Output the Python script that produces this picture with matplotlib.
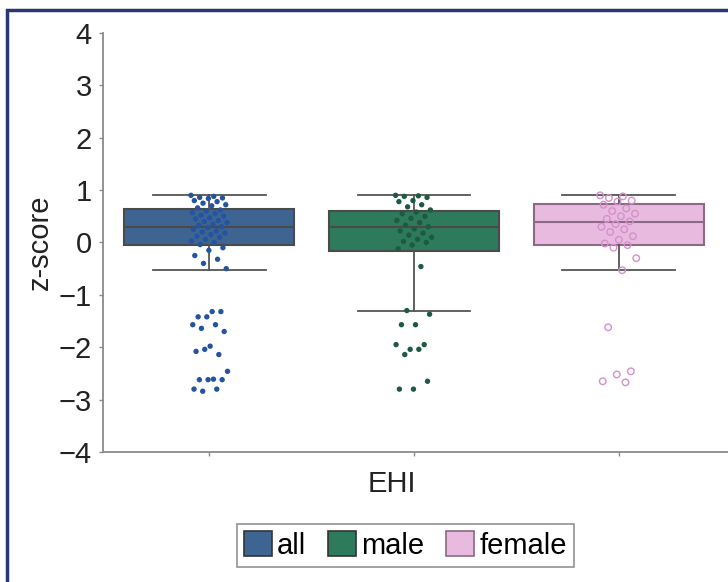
import numpy as np
import matplotlib.pyplot as plt
from matplotlib.patches import Patch, Rectangle

plt.rcParams['font.family'] = ['Liberation Sans', 'DejaVu Sans']

groups = ['all', 'male', 'female']
face_cols = ['#3e6592', '#2e7a5c', '#e8badf']
edge_cols = ['#4a4a4a', '#4a4a4a', '#8c6a86']
dot_cols = ['#2453a0', '#1d5a40', '#d590cc']

# box statistics
q1 = [-0.05, -0.17, -0.05]
med = [0.30, 0.29, 0.40]
q3 = [0.63, 0.60, 0.73]
wlo = [-0.53, -1.30, -0.53]
whi = [0.90, 0.90, 0.90]

# individual z-scores (strip points)
all_vals = [0.90, 0.88, 0.86, 0.85, 0.84, 0.80, 0.78, 0.75, 0.72, 0.70, 0.66, 0.62,
            0.60, 0.57, 0.55, 0.52, 0.50, 0.47, 0.45, 0.42, 0.40, 0.38, 0.35, 0.33,
            0.30, 0.28, 0.25, 0.22, 0.20, 0.18, 0.15, 0.12, 0.10, 0.06, 0.03, 0.00,
            -0.04, -0.10, -0.15, -0.25, -0.32, -0.40, -0.50,
            -1.32, -1.42, -1.32, -1.42, -1.57, -1.57, -1.64, -1.70, -1.98, -2.08, -2.14,
            -2.04, -2.46, -2.61, -2.62, -2.62, -2.62, -2.80, -2.80, -2.84]
male_vals = [0.90, 0.89, 0.88, 0.86, 0.80, 0.78, 0.72, 0.68, 0.62, 0.58, 0.55, 0.50,
             0.46, 0.42, 0.38, 0.33, 0.30, 0.26, 0.22, 0.18, 0.14, 0.10, 0.06, 0.02,
             0.00, -0.05, -0.12, -0.46,
             -1.30, -1.37, -1.57, -1.57, -1.95, -2.04, -1.95, -2.04, -2.14, -2.65,
             -2.80, -2.80]
female_vals = [0.90, 0.88, 0.85, 0.80, 0.78, 0.72, 0.65, 0.60, 0.55, 0.50, 0.45, 0.40,
               0.35, 0.30, 0.25, 0.20, 0.12, 0.05, -0.02, -0.05, -0.10, -0.30, -0.53,
               -1.62, -2.46, -2.52, -2.65, -2.67]
values = [all_vals, male_vals, female_vals]

fs = 21

fig = plt.figure(figsize=(7.28, 5.82), dpi=100)
ax = fig.add_axes([0.1415, 0.2234, 0.86, 0.72])

stats = []
for i, g in enumerate(groups):
    stats.append(dict(label=g, med=med[i], q1=q1[i], q3=q3[i],
                      whislo=wlo[i], whishi=whi[i], fliers=[]))

pos = np.arange(len(groups))
bp = ax.bxp(stats, positions=pos, widths=0.83, patch_artist=True,
            showfliers=False, capwidths=0.55, manage_ticks=False)
for i, box in enumerate(bp['boxes']):
    box.set_facecolor(face_cols[i])
    box.set_edgecolor(edge_cols[i])
    box.set_linewidth(1.5)
for k, line in enumerate(bp['medians']):
    line.set_color(edge_cols[k])
    line.set_linewidth(1.5)
for line in bp['whiskers'] + bp['caps']:
    line.set_color('#555555')
    line.set_linewidth(1.3)

# strip points with a fixed (non-random) jitter
for i, v in enumerate(values):
    n = len(v)
    jit = ((np.arange(n) * 0.6180339) % 1.0 - 0.5) * 0.18
    if groups[i] == 'female':
        ax.scatter(pos[i] + jit, v, s=22, facecolors='none',
                   edgecolors=dot_cols[i], linewidths=1.0, zorder=3)
    else:
        ax.scatter(pos[i] + jit, v, s=15, color=dot_cols[i],
                   edgecolors='none', zorder=3)

ax.set_xlim(-0.52, 2.54)
ax.set_ylim(-4, 4)
ax.set_yticks(range(-4, 5))
ax.set_yticklabels([str(t).replace('-', '\u2212') for t in range(-4, 5)])
ax.set_xticks(pos)
ax.set_xticklabels([])
for s in ['top', 'right']:
    ax.spines[s].set_visible(False)
for s in ['left', 'bottom']:
    ax.spines[s].set_color('#8a8a8a')
    ax.spines[s].set_linewidth(1.3)
ax.tick_params(colors='#8a8a8a', labelcolor='#222222', labelsize=fs,
               length=3, width=1, pad=5)

ax.set_ylabel('z-score', fontsize=fs, color='#222222')
ax.yaxis.set_label_coords(-0.078, 0.5)
ax.set_xlabel('EHI', fontsize=fs, color='#222222')
ax.xaxis.set_label_coords(0.461, -0.042)

handles = [Patch(facecolor=face_cols[i], edgecolor='#333333' if i < 2 else '#8c6a86',
                 linewidth=1.2, label=g) for i, g in enumerate(groups)]
leg = fig.legend(handles=handles, loc='center', bbox_to_anchor=(0.557, 0.0625),
                 ncol=3, fontsize=fs, frameon=True, fancybox=False,
                 handlelength=0.95, handleheight=0.95, handletextpad=0.18,
                 columnspacing=0.75, borderpad=0.25, borderaxespad=0)
leg.get_frame().set_edgecolor('#777777')
leg.get_frame().set_linewidth(1.2)

# navy frame around the panel (right and bottom edges fall outside the image)
fig.patches.append(Rectangle((7 / 728, -0.1), 1.2, 0.1 + (582 - 10) / 582,
                             transform=fig.transFigure, fill=False,
                             edgecolor='#2b3672', linewidth=2.5, zorder=0))

plt.savefig('out.png', dpi=100)
